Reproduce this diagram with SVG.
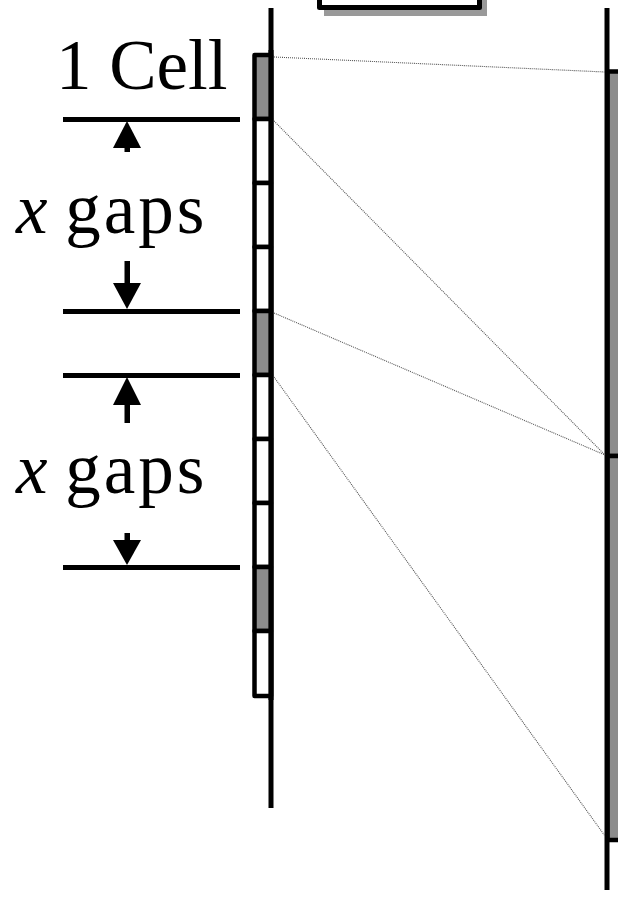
<svg xmlns="http://www.w3.org/2000/svg" width="618" height="901" viewBox="0 0 618 901">
<style>
.ln{stroke:#000;stroke-width:5;fill:none}
.cell{stroke:#000;stroke-width:4.5;stroke-linejoin:round}
.g{fill:#8c8c8c}
.w{fill:#fff}
.lbl{font-family:"Liberation Serif","Times New Roman",serif;font-size:71px;fill:#000}
.sp{letter-spacing:3px}
.dot{stroke:#555;stroke-width:1.1;stroke-dasharray:1 1;fill:none}
.arr{fill:#000}
</style>
<g id="topbox">
<rect x="324" y="-40" width="163" height="56" fill="#999"/>
<rect x="319.5" y="-45" width="160" height="52.5" fill="#fff" stroke="#000" stroke-width="5" stroke-linejoin="round"/>
</g>
<g id="left-axis">
<line class="ln" x1="271" y1="8" x2="271" y2="808"/>
</g>
<g id="cells">
<rect class="cell g" x="254.5" y="55" width="16.5" height="64"/>
<rect class="cell w" x="254.5" y="119" width="16.5" height="64"/>
<rect class="cell w" x="254.5" y="183" width="16.5" height="64"/>
<rect class="cell w" x="254.5" y="247" width="16.5" height="64"/>
<rect class="cell g" x="254.5" y="311" width="16.5" height="64"/>
<rect class="cell w" x="254.5" y="375" width="16.5" height="64"/>
<rect class="cell w" x="254.5" y="439" width="16.5" height="64"/>
<rect class="cell w" x="254.5" y="503" width="16.5" height="64"/>
<rect class="cell g" x="254.5" y="567" width="16.5" height="64"/>
<rect class="cell w" x="254.5" y="631" width="16.5" height="65"/>
<line class="ln" x1="271" y1="50" x2="271" y2="700"/>
</g>
<g id="right-axis">
<rect class="cell g" x="607.5" y="71.5" width="30" height="384.5" stroke-width="5"/>
<rect class="cell g" x="607.5" y="456" width="30" height="384" stroke-width="5"/>
<line class="ln" x1="607" y1="8" x2="607" y2="890"/>
</g>
<g id="labels">
<text class="lbl" x="56" y="89">1 Cell</text>
<text class="lbl" x="16" y="233"><tspan font-style="italic">x</tspan> <tspan class="sp">gaps</tspan></text>
<text class="lbl" x="16" y="493"><tspan font-style="italic">x</tspan> <tspan class="sp">gaps</tspan></text>
</g>
<g id="dimensions">
<line class="ln" x1="63" y1="119.5" x2="240" y2="119.5"/>
<line class="ln" x1="63" y1="311.5" x2="240" y2="311.5"/>
<line class="ln" x1="63" y1="375.5" x2="240" y2="375.5"/>
<line class="ln" x1="63" y1="567.5" x2="240" y2="567.5"/>
<polygon class="arr" points="127,121 113,148 141,148"/>
<rect class="arr" x="124.5" y="146" width="5.5" height="6"/>
<rect class="arr" x="124.5" y="261" width="5.5" height="24"/>
<polygon class="arr" points="113,283 141,283 127,309"/>
<polygon class="arr" points="127,377 113,405 141,405"/>
<rect class="arr" x="124.5" y="403" width="5.5" height="20"/>
<rect class="arr" x="124.5" y="533" width="5.5" height="9"/>
<polygon class="arr" points="113,540 141,540 127,565"/>
</g>
<g id="connectors">
<line class="dot" x1="274" y1="57" x2="605" y2="72"/>
<line class="dot" x1="274" y1="121" x2="605" y2="455"/>
<line class="dot" x1="274" y1="313" x2="605" y2="455"/>
<line class="dot" x1="274" y1="377" x2="605" y2="836"/>
</g>
</svg>
